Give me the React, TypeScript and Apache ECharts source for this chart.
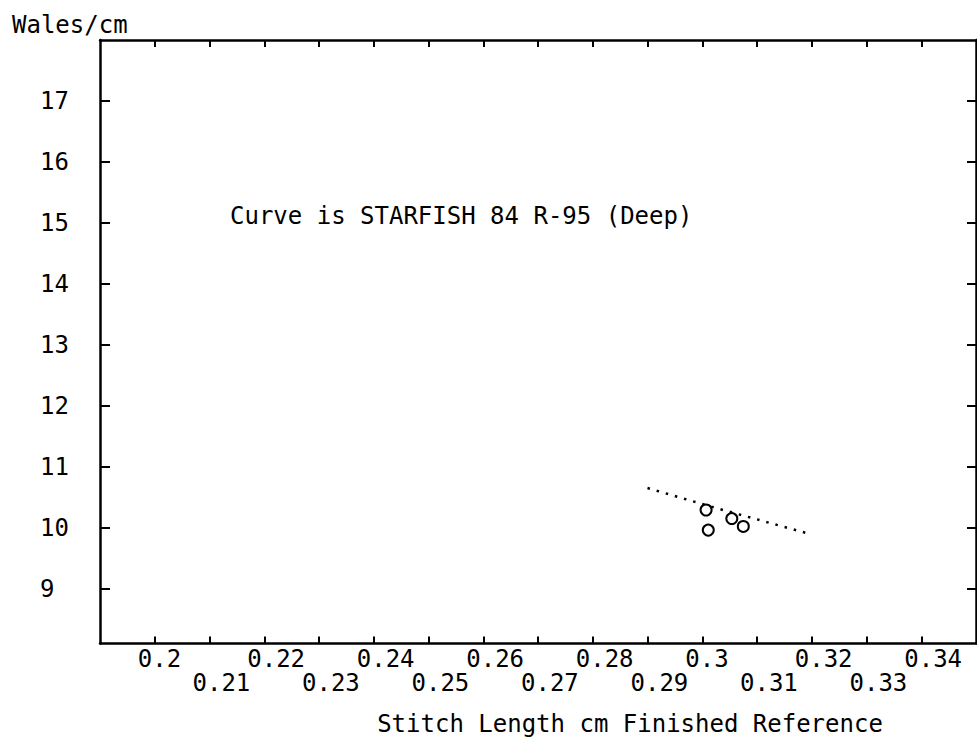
import React, { useEffect, useRef } from "react";
import * as echarts from "echarts";

// Tick values / labels (labels alternate between two rows)
const xTickValues = [0.2, 0.21, 0.22, 0.23, 0.24, 0.25, 0.26, 0.27, 0.28, 0.29, 0.3, 0.31, 0.32, 0.33, 0.34];
const xLabelsUpper = [0.2, 0.22, 0.24, 0.26, 0.28, 0.3, 0.32, 0.34];
const xLabelsLower = [0.21, 0.23, 0.25, 0.27, 0.29, 0.31, 0.33];
const yTickValues = [9, 10, 11, 12, 13, 14, 15, 16, 17];

// Reference curve: STARFISH 84 R-95 (Deep)
const curveStitchLength = [0.29, 0.303, 0.3195];
const curveWales = [10.65, 10.31, 9.9];

// Measured points
const pointStitchLength = [0.3007, 0.3011, 0.3054, 0.3075];
const pointWales = [10.29, 9.96, 10.15, 10.02];

const X_MIN = 0.19;
const X_MAX = 0.35;
const Y_MIN = 8.1;
const Y_MAX = 18;

const FONT = "'DejaVu Sans Mono', 'Liberation Mono', monospace";

function fmt(v: number): string {
  return String(Number(v.toFixed(2)));
}

export default function App() {
  const ref = useRef<HTMLDivElement>(null);

  useEffect(() => {
    document.body.style.margin = "0";
    if (!ref.current) return;
    const chart = echarts.init(ref.current, null, { renderer: "svg" });

    const axisLine = { show: true, onZero: false, lineStyle: { color: "#000", width: 2.5 } };
    const xLabelStyle = {
      color: "#000",
      fontFamily: FONT,
      fontSize: 24,
      margin: 3,
      align: "left",
      verticalAlign: "top",
      padding: [0, 0, 0, -17],
      showMinLabel: true,
      showMaxLabel: true,
      formatter: (v: number) => fmt(v),
    };

    chart.setOption({
      animation: false,
      backgroundColor: "#fff",
      grid: {
        left: 100,
        right: 1,
        top: 40,
        bottom: 739 - 643.5,
        containLabel: false,
        outerBoundsMode: "none",
      },
      xAxis: [
        {
          type: "value",
          position: "bottom",
          min: X_MIN,
          max: X_MAX,
          axisLine,
          splitLine: { show: false },
          axisTick: {
            inside: true,
            length: 7,
            customValues: xTickValues,
            lineStyle: { color: "#000", width: 2 },
          },
          axisLabel: { ...xLabelStyle, customValues: xLabelsUpper },
          name: "Stitch Length cm Finished Reference",
          nameLocation: "middle",
          nameGap: 68.5,
          nameTextStyle: {
            color: "#000",
            fontFamily: FONT,
            fontSize: 24,
            align: "center",
            verticalAlign: "top",
            padding: [0, 0, 0, 184],
          },
        },
        {
          type: "value",
          position: "bottom",
          offset: 24,
          min: X_MIN,
          max: X_MAX,
          axisLine: { show: false },
          splitLine: { show: false },
          axisTick: { show: false },
          axisLabel: { ...xLabelStyle, customValues: xLabelsLower },
        },
        {
          type: "value",
          position: "top",
          min: X_MIN,
          max: X_MAX,
          axisLine,
          splitLine: { show: false },
          axisTick: {
            inside: true,
            length: 7,
            customValues: xTickValues,
            lineStyle: { color: "#000", width: 2 },
          },
          axisLabel: { show: false },
        },
      ],
      yAxis: [
        {
          type: "value",
          position: "left",
          min: Y_MIN,
          max: Y_MAX,
          axisLine,
          splitLine: { show: false },
          axisTick: {
            inside: true,
            length: 10,
            customValues: yTickValues,
            lineStyle: { color: "#000", width: 2 },
          },
          axisLabel: {
            customValues: yTickValues,
            color: "#000",
            fontFamily: FONT,
            fontSize: 24,
            margin: 60,
            align: "left",
            verticalAlign: "middle",
          },
          name: "Wales/cm",
          nameLocation: "end",
          nameGap: 3,
          nameTextStyle: {
            color: "#000",
            fontFamily: FONT,
            fontSize: 24,
            align: "left",
            verticalAlign: "bottom",
            padding: [0, 0, 0, -88],
          },
        },
        {
          type: "value",
          position: "right",
          min: Y_MIN,
          max: Y_MAX,
          axisLine,
          splitLine: { show: false },
          axisTick: {
            inside: true,
            length: 9,
            customValues: yTickValues,
            lineStyle: { color: "#000", width: 2 },
          },
          axisLabel: { show: false },
        },
      ],
      graphic: [
        {
          type: "text",
          left: 230,
          top: 204,
          style: {
            text: "Curve is STARFISH 84 R-95 (Deep)",
            fill: "#000",
            fontFamily: FONT,
            fontSize: 24,
          },
        },
      ],
      series: [
        {
          name: "STARFISH 84 R-95 (Deep)",
          type: "line",
          xAxisIndex: 0,
          yAxisIndex: 0,
          showSymbol: false,
          symbol: "none",
          data: curveStitchLength.map((x, i) => [x, curveWales[i]]),
          lineStyle: { color: "#000", width: 2.5, type: [2.5, 7] },
          z: 2,
        },
        {
          name: "Measured",
          type: "scatter",
          xAxisIndex: 0,
          yAxisIndex: 0,
          symbol: "emptyCircle",
          symbolSize: 11,
          data: pointStitchLength.map((x, i) => [x, pointWales[i]]),
          itemStyle: { color: "#000", borderColor: "#000", borderWidth: 3, opacity: 1 },
          z: 3,
        },
      ],
    });

    return () => {
      chart.dispose();
    };
  }, []);

  return <div ref={ref} style={{ width: 977, height: 739 }} />;
}
